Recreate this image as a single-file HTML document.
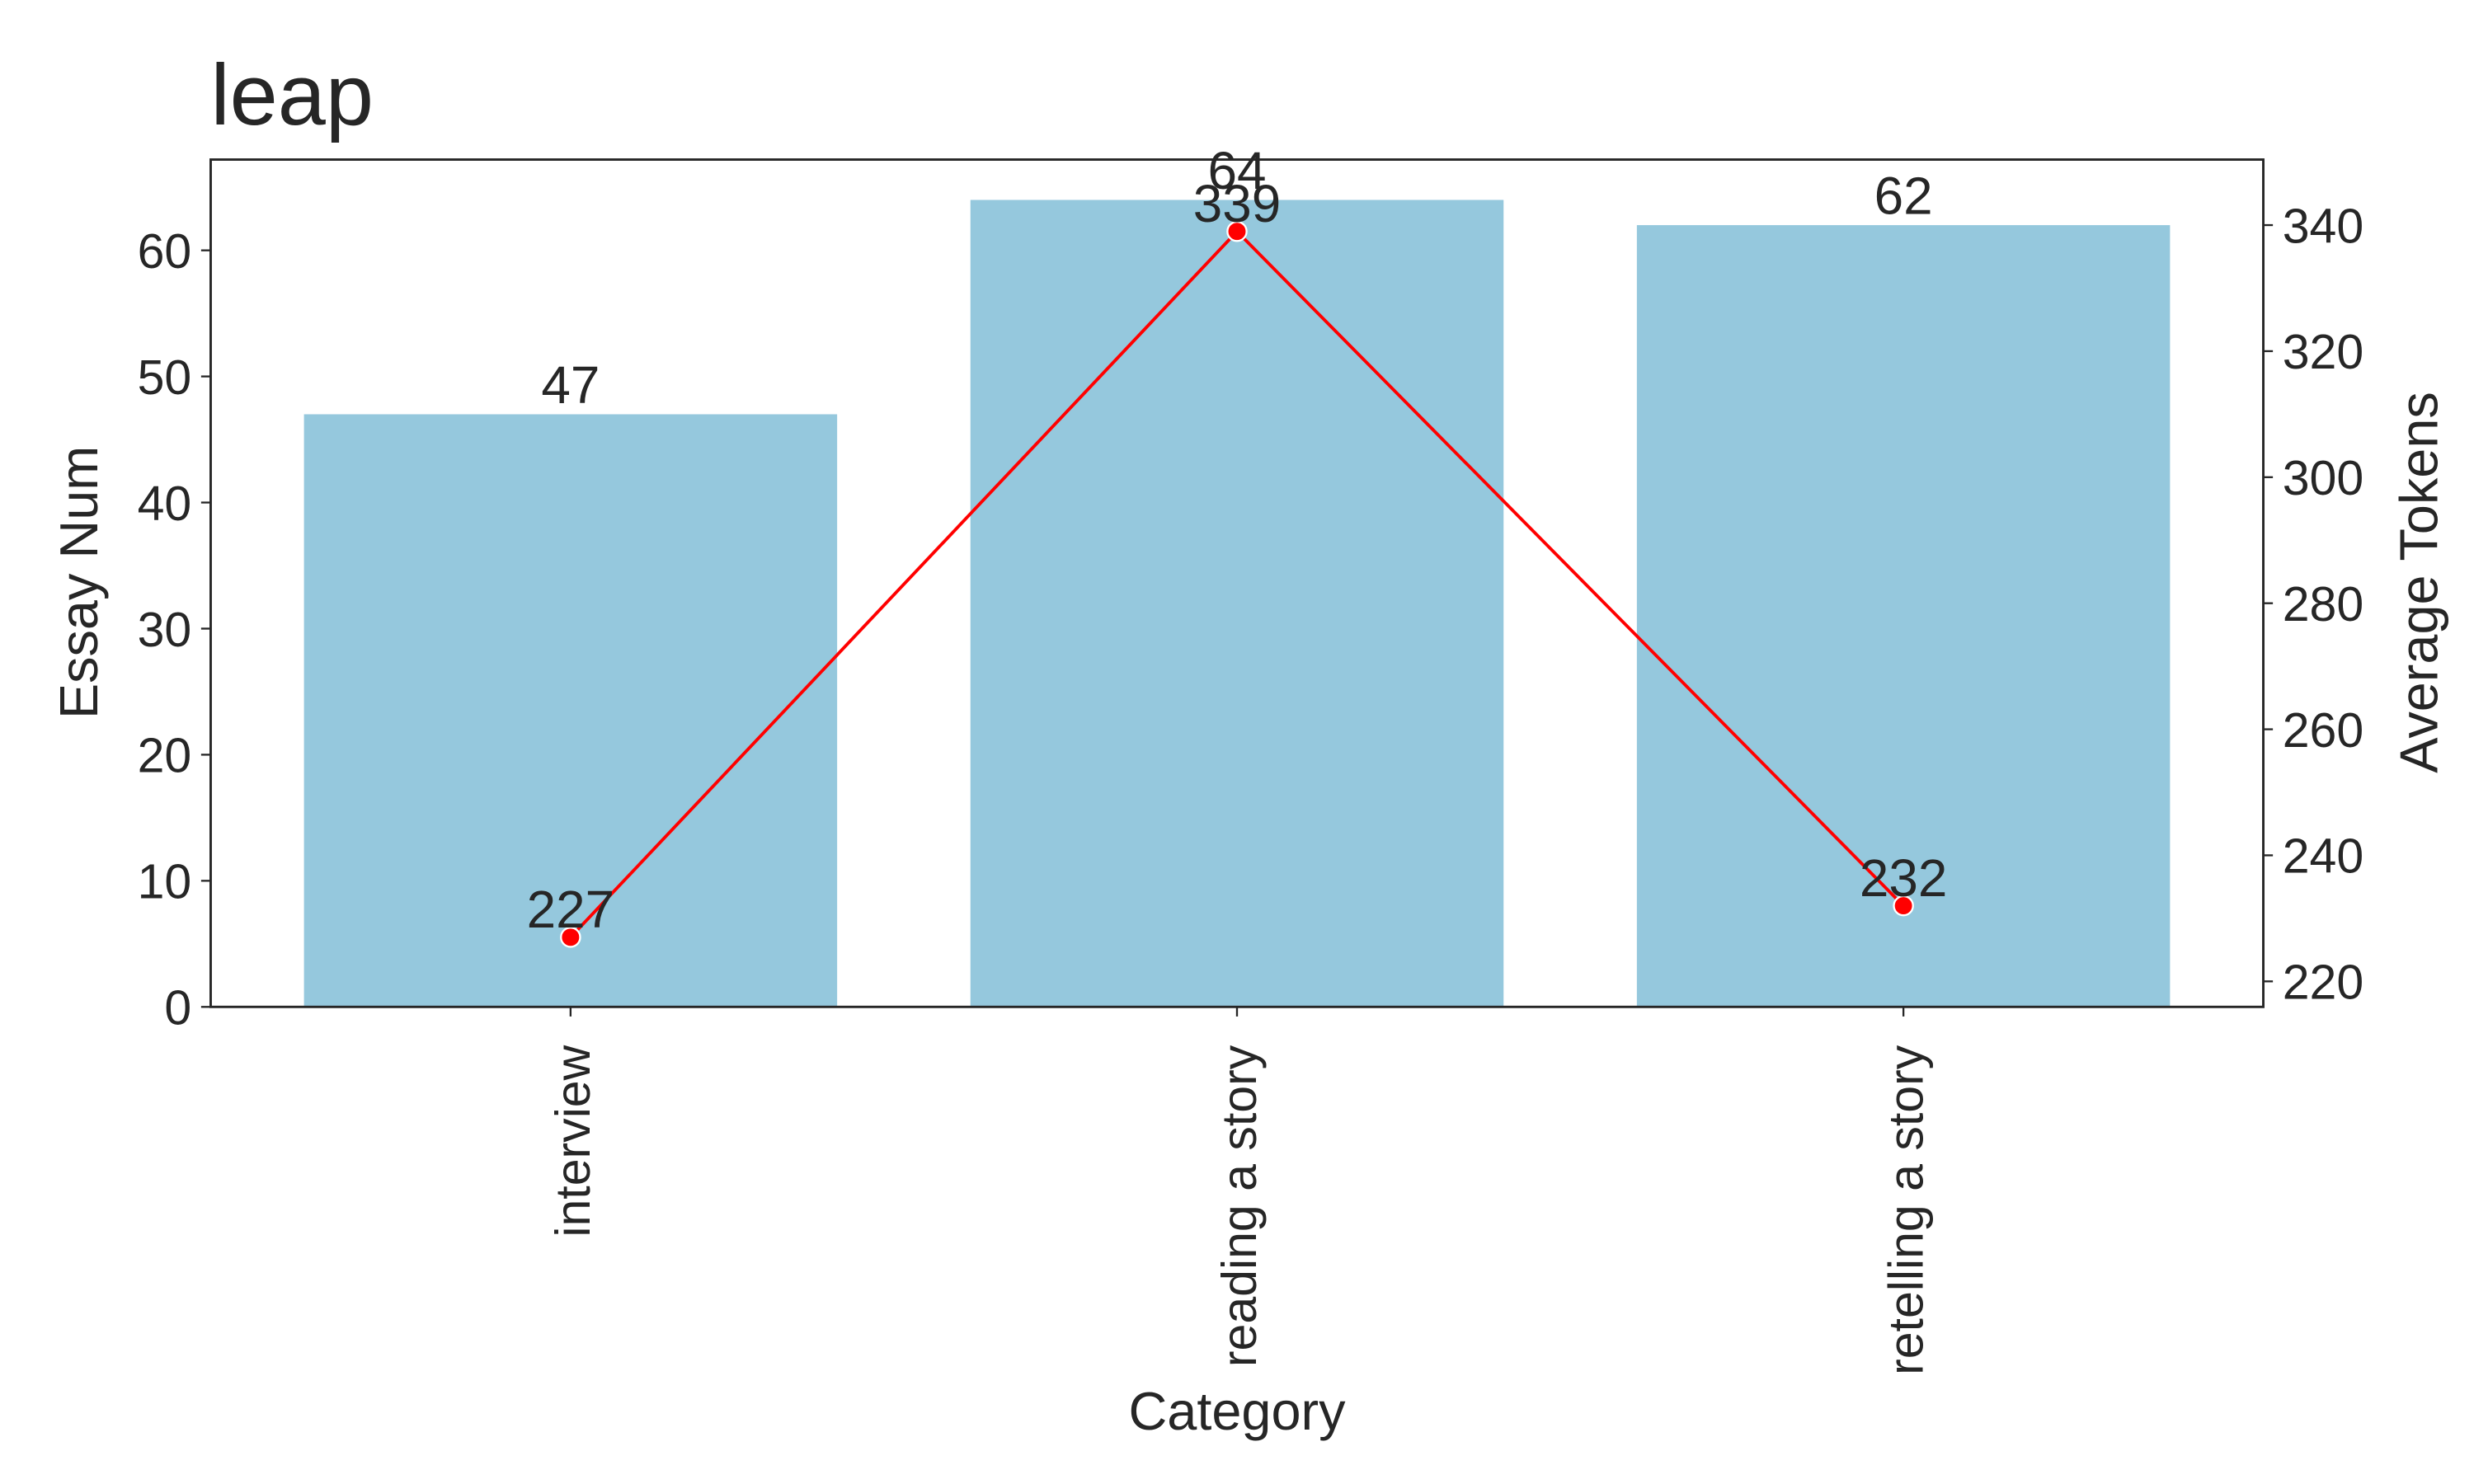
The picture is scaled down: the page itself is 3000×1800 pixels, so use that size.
<!DOCTYPE html>
<html><head><meta charset="utf-8"><style>
html,body{margin:0;padding:0;background:#fff}
svg{display:block}
text{font-family:"Liberation Sans",Arial,sans-serif;fill:#262626}
</style></head><body>
<svg width="3000" height="1800" viewBox="0 0 1550 930" xmlns="http://www.w3.org/2000/svg">
<g id="root"></g>
</svg>
<script>
const categories = ["interview","reading a story","retelling a story"];
const essayNum = [47,64,62];
const avgTokens = [227,339,232];
const leftTicks = [0,10,20,30,40,50,60];
const rightTicks = [220,240,260,280,300,320,340];

const L=132,R=1418,T=100,B=631;
const xMin=-0.54,xMax=2.54, yMax=67.2, rMin=215.95, rMax=350.4;
const xs=v=>L+(v-xMin)/(xMax-xMin)*(R-L);
const ys=v=>B-v/yMax*(B-T);
const yr=v=>B-(v-rMin)/(rMax-rMin)*(B-T);
const NS="http://www.w3.org/2000/svg";
const root=document.getElementById('root');
function mk(tag,attrs,txt){const e=document.createElementNS(NS,tag);for(const k in attrs)e.setAttribute(k,attrs[k]);if(txt!==undefined)e.textContent=txt;root.appendChild(e);return e;}
const TF=30.5, LF=33.5, AF=33;

categories.forEach((c,i)=>{
  const w=(xs(0.4)-xs(-0.4));
  const b=mk('rect',{x:xs(i)-w/2,y:ys(essayNum[i]),width:w,height:B-ys(essayNum[i]),fill:'#95c8dd'});
  
  
  const t=mk('text',{x:xs(i),y:ys(essayNum[i])-7,'text-anchor':'middle','font-size':AF},String(essayNum[i]));
  
  
  const tk=mk('line',{x1:xs(i),x2:xs(i),y1:B,y2:B+6,stroke:'#262626','stroke-width':1.2});
  
  
  const bx=xs(i)+12, by=B+24;
  const xl=mk('text',{x:bx,y:by,'text-anchor':'end','font-size':TF,transform:`rotate(-90 ${bx} ${by})`},c);
  
  
});
const pts=avgTokens.map((v,i)=>xs(i)+','+yr(v)).join(' ');
const pl=mk('polyline',{points:pts,fill:'none',stroke:'#ff0000','stroke-width':2});


avgTokens.forEach((v,i)=>{
  const c=mk('circle',{cx:xs(i),cy:yr(v),r:6,fill:'#ff0000',stroke:'#fff','stroke-width':1.2});
  
  
  const t=mk('text',{x:xs(i),y:yr(v)-6,'text-anchor':'middle','font-size':AF},String(v));
  
  
});
leftTicks.forEach(v=>{
  const l=mk('line',{x1:L-6,x2:L,y1:ys(v),y2:ys(v),stroke:'#262626','stroke-width':1.2});
  
  
  const t=mk('text',{x:L-12,y:ys(v)+11,'text-anchor':'end','font-size':TF},String(v));
  
  
});
rightTicks.forEach(v=>{
  const l=mk('line',{x1:R,x2:R+6,y1:yr(v),y2:yr(v),stroke:'#262626','stroke-width':1.2});
  
  
  const t=mk('text',{x:R+12,y:yr(v)+11,'text-anchor':'start','font-size':TF},String(v));
  
  
});
const fr=mk('rect',{x:L,y:T,width:R-L,height:B-T,fill:'none',stroke:'#262626','stroke-width':1.5});


const ti=mk('text',{x:132,y:78,'font-size':54},'leap');


const yl=mk('text',{x:61,y:365,'text-anchor':'middle','font-size':LF,transform:'rotate(-90 61 365)'},'Essay Num');


const yr2=mk('text',{x:1527,y:365,'text-anchor':'middle','font-size':LF,transform:'rotate(-90 1527 365)'},'Average Tokens');


const xt=mk('text',{x:775,y:896,'text-anchor':'middle','font-size':LF},'Category');


</script>
</body></html>
